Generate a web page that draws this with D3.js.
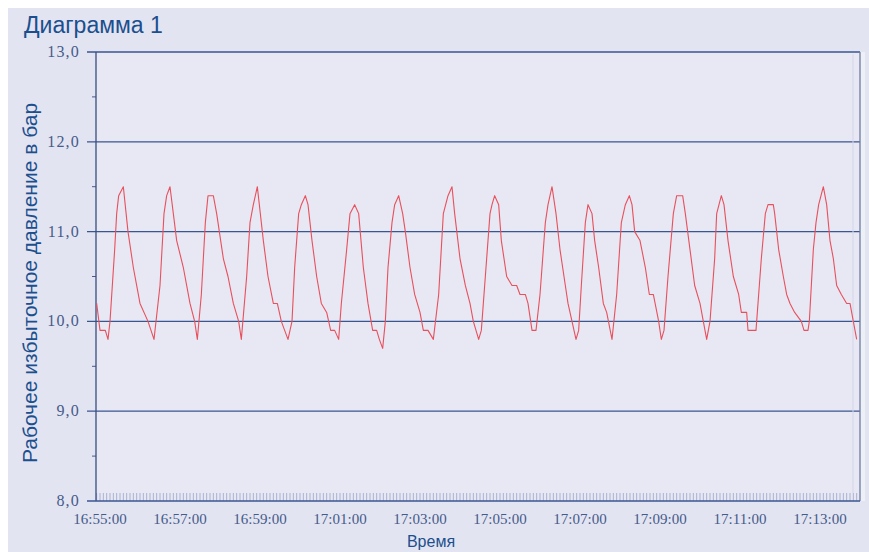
<!DOCTYPE html>
<html>
<head>
<meta charset="utf-8">
<script src="https://cdn.jsdelivr.net/npm/d3@7"></script>
<style>
  body { margin: 0; background: #ffffff; }
  svg { display: block; }
</style>
</head>
<body>
<div id="chart"></div>
<script>
// readings taken off the chart (time, bar)
var times = ["16:54:55","16:55:00","16:55:08","16:55:12","16:55:15","16:55:22","16:55:25","16:55:28","16:55:35","16:55:42",
  "16:55:50","16:56:00","16:56:12","16:56:21","16:56:30","16:56:36","16:56:40","16:56:45","16:56:50","16:56:55",
  "16:57:05","16:57:15","16:57:22","16:57:26","16:57:32","16:57:38","16:57:42","16:57:50","16:57:55","16:58:05",
  "16:58:12","16:58:20","16:58:28","16:58:32","16:58:40","16:58:45","16:58:50","16:58:56","16:59:05","16:59:12",
  "16:59:20","16:59:26","16:59:32","16:59:42","16:59:48","16:59:52","16:59:58","17:00:02","17:00:08","17:00:12",
  "17:00:18","17:00:25","17:00:32","17:00:40","17:00:46","17:00:52","17:00:58","17:01:02","17:01:10","17:01:15",
  "17:01:22","17:01:28","17:01:35","17:01:42","17:01:49","17:01:55","17:01:59","17:02:04","17:02:08","17:02:12",
  "17:02:18","17:02:22","17:02:28","17:02:34","17:02:38","17:02:45","17:02:52","17:03:00","17:03:05","17:03:12",
  "17:03:20","17:03:28","17:03:35","17:03:42","17:03:48","17:03:52","17:04:00","17:04:08","17:04:15","17:04:20",
  "17:04:28","17:04:32","17:04:40","17:04:45","17:04:48","17:04:52","17:04:58","17:05:02","17:05:10","17:05:18",
  "17:05:25","17:05:30","17:05:38","17:05:42","17:05:48","17:05:54","17:06:00","17:06:08","17:06:12","17:06:18",
  "17:06:24","17:06:30","17:06:38","17:06:42","17:06:48","17:06:54","17:06:58","17:07:02","17:07:08","17:07:12",
  "17:07:18","17:07:22","17:07:28","17:07:35","17:07:40","17:07:48","17:07:55","17:08:02","17:08:08","17:08:14",
  "17:08:18","17:08:22","17:08:30","17:08:38","17:08:44","17:08:50","17:08:58","17:09:02","17:09:06","17:09:12",
  "17:09:20","17:09:25","17:09:34","17:09:38","17:09:45","17:09:52","17:10:00","17:10:10","17:10:15","17:10:22",
  "17:10:25","17:10:32","17:10:36","17:10:42","17:10:50","17:10:58","17:11:02","17:11:10","17:11:12","17:11:24",
  "17:11:32","17:11:38","17:11:42","17:11:50","17:11:52","17:11:58","17:12:05","17:12:10","17:12:15","17:12:22",
  "17:12:32","17:12:36","17:12:42","17:12:44","17:12:50","17:12:54","17:12:58","17:13:05","17:13:10","17:13:15",
  "17:13:20","17:13:25","17:13:32","17:13:40","17:13:45","17:13:50","17:13:55"];

var pressure = [10.2,9.9,9.9,9.8,10.0,10.8,11.2,11.4,11.5,11.0,
  10.6,10.2,10.0,9.8,10.4,11.2,11.4,11.5,11.2,10.9,
  10.6,10.2,10.0,9.8,10.3,11.1,11.4,11.4,11.2,10.7,
  10.5,10.2,10.0,9.8,10.5,11.1,11.3,11.5,10.9,10.5,
  10.2,10.2,10.0,9.8,10.0,10.6,11.2,11.3,11.4,11.3,
  10.9,10.5,10.2,10.1,9.9,9.9,9.8,10.2,10.8,11.2,
  11.3,11.2,10.6,10.2,9.9,9.9,9.8,9.7,10.0,10.6,
  11.1,11.3,11.4,11.2,11.0,10.6,10.3,10.1,9.9,9.9,
  9.8,10.3,11.2,11.4,11.5,11.2,10.7,10.4,10.2,10.0,
  9.8,9.9,10.7,11.2,11.3,11.4,11.3,10.9,10.5,10.4,
  10.4,10.3,10.3,10.2,9.9,9.9,10.3,11.1,11.3,11.5,
  11.2,10.8,10.4,10.2,10.0,9.8,9.9,10.4,11.1,11.3,
  11.2,10.9,10.6,10.2,10.1,9.8,10.3,11.1,11.3,11.4,
  11.3,11.0,10.9,10.6,10.3,10.3,10.0,9.8,9.9,10.5,
  11.2,11.4,11.4,11.2,10.8,10.4,10.2,9.8,10.0,10.7,
  11.2,11.4,11.3,10.9,10.5,10.3,10.1,10.1,9.9,9.9,
  10.7,11.2,11.3,11.3,11.2,10.8,10.5,10.3,10.2,10.1,
  10.0,9.9,9.9,10.0,10.8,11.1,11.3,11.5,11.3,10.9,
  10.7,10.4,10.3,10.2,10.2,10.0,9.8];

var xTickLabels = ["16:55:00","16:57:00","16:59:00","17:01:00","17:03:00","17:05:00","17:07:00","17:09:00","17:11:00","17:13:00"];
var yTicks = [8, 9, 10, 11, 12, 13];
var yMinorTicks = [8.5, 9.5, 10.5, 11.5, 12.5];
var timeStart = "16:54:54", timeEnd = "17:14:00";

var title = "Диаграмма 1";
var yTitle = "Рабочее избыточное давление в бар";
var xTitle = "Время";

var W = 869, H = 552;
var pL = 96, pR = 860, pT = 52, pB = 501;

var parse = d3.timeParse("%H:%M:%S");
var fmtY = function (d) { return d3.format(".1f")(d).replace(".", ","); };

var data = times.map(function (t, i) { return { t: parse(t), v: pressure[i] }; });

var svg = d3.select("#chart").append("svg")
  .attr("width", W).attr("height", H);

// page background
svg.append("rect").attr("x", 8).attr("y", 8).attr("width", W - 8).attr("height", H - 8)
  .attr("fill", "#e3e4f1");
svg.append("rect").attr("x", pL).attr("y", pT).attr("width", pR - pL).attr("height", pB - pT)
  .attr("fill", "#e7e8f4");
svg.append("rect").attr("x", pR).attr("y", pT).attr("width", 5).attr("height", pB - pT)
  .attr("fill", "#eef0f8");

var x = d3.scaleTime().domain([parse(timeStart), parse(timeEnd)]).range([pL, pR]);
var y = d3.scaleLinear().domain([8, 13]).range([pB, pT]);

// horizontal gridlines
svg.append("g").selectAll("line").data(yTicks.slice(1)).enter().append("line")
  .attr("x1", pL - 9).attr("x2", pR)
  .attr("y1", function (d) { return y(d); }).attr("y2", function (d) { return y(d); })
  .attr("stroke", "#3a5690").attr("stroke-width", 1.3);

// minor y ticks
svg.append("g").selectAll("line").data(yMinorTicks).enter().append("line")
  .attr("x1", pL - 4).attr("x2", pL)
  .attr("y1", function (d) { return y(d); }).attr("y2", function (d) { return y(d); })
  .attr("stroke", "#4a5a88").attr("stroke-width", 1);

// dense minor ticks along the time axis
var minor = d3.timeSecond.every(5).range(parse("16:54:55"), parse(timeEnd));
svg.append("g").selectAll("line").data(minor).enter().append("line")
  .attr("x1", function (d) { return x(d); }).attr("x2", function (d) { return x(d); })
  .attr("y1", pB).attr("y2", pB - 8)
  .attr("stroke", "#9aa3c8").attr("stroke-width", 0.8);

// frame
svg.append("line").attr("x1", pR - 7).attr("x2", pR - 7).attr("y1", pT + 2).attr("y2", pB - 8)
  .attr("stroke", "#d3d6ea").attr("stroke-width", 1);
svg.append("line").attr("x1", pR).attr("x2", pR).attr("y1", pT).attr("y2", pB)
  .attr("stroke", "#6d7aa0").attr("stroke-width", 1.3);
svg.append("line").attr("x1", pL).attr("x2", pL).attr("y1", pT).attr("y2", pB)
  .attr("stroke", "#3a4c80").attr("stroke-width", 1.3);
svg.append("line").attr("x1", pL - 9).attr("x2", pR).attr("y1", pB).attr("y2", pB)
  .attr("stroke", "#3a5690").attr("stroke-width", 1.3);

// series
var line = d3.line().x(function (d) { return x(d.t); }).y(function (d) { return y(d.v); });
svg.append("path").datum(data)
  .attr("d", line)
  .attr("fill", "none")
  .attr("stroke", "#e8505c")
  .attr("stroke-width", 1.1)
  .attr("stroke-linejoin", "round");

// y labels
svg.append("g").selectAll("text").data(yTicks).enter().append("text")
  .attr("x", 80).attr("y", function (d) { return y(d) + 5; })
  .attr("text-anchor", "end")
  .attr("font-family", "Liberation Serif, serif")
  .attr("font-size", 16).attr("letter-spacing", 1.2)
  .attr("fill", "#455b8a")
  .text(fmtY);

// x labels
svg.append("g").selectAll("text").data(xTickLabels).enter().append("text")
  .attr("x", function (d) { return x(parse(d)); }).attr("y", 524)
  .attr("text-anchor", "middle")
  .attr("font-family", "Liberation Serif, serif")
  .attr("font-size", 15)
  .attr("fill", "#455b8a")
  .text(function (d) { return d; });

// titles
svg.append("text").attr("x", 24).attr("y", 33)
  .attr("font-family", "Liberation Sans, Arial, sans-serif").attr("font-size", 23)
  .attr("fill", "#1b4f8e").text(title);

svg.append("text").attr("x", 431).attr("y", 547).attr("text-anchor", "middle")
  .attr("font-family", "Liberation Sans, Arial, sans-serif").attr("font-size", 16)
  .attr("fill", "#1b4f8e").text(xTitle);

svg.append("text")
  .attr("transform", "translate(37,283) rotate(-90)")
  .attr("text-anchor", "middle")
  .attr("font-family", "Liberation Sans, Arial, sans-serif").attr("font-size", 21)
  .attr("fill", "#1b4f8e").text(yTitle);
</script>
</body>
</html>
